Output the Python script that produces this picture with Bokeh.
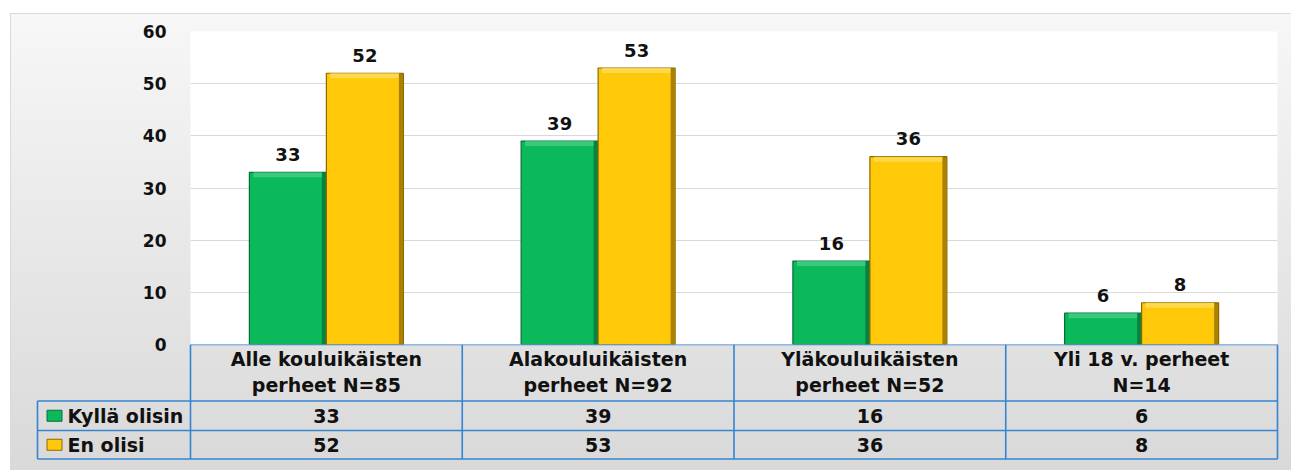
from bokeh.plotting import figure
from bokeh.models import FactorRange, Range1d, ColumnDataSource, FixedTicker, Column
from bokeh.transform import dodge
from bokeh.core.properties import value
from bokeh.embed import file_html
from bokeh.resources import INLINE

# ---- data ----
categories = ["Alle kouluikäisten\nperheet N=85", "Alakouluikäisten\nperheet N=92",
              "Yläkouluikäisten\nperheet N=52", "Yli 18 v. perheet\nN=14"]
series_names = ["Kyllä olisin", "En olisi"]
kylla = [33, 39, 16, 6]
en = [52, 53, 36, 8]
y_ticks = [0, 10, 20, 30, 40, 50, 60]

# ---- style ----
colors = ["#0BB85A", "#FFC90A"]
light_colors = ["#45CF83", "#FFDD5C"]
edge_colors = ["#05703A", "#8C6A00"]
grid_color = "#D9D9D9"
table_color = "#3584D2"
FONT = "DejaVu Sans"
W = 1291
PAD = 10
TOP_H = 344 + PAD
BOT_H = 126
FRAME_L = 190
FRAME_T = 31
FRAME_R = 14
NCAT = len(categories)
PX = (W - FRAME_L - FRAME_R) / NCAT
PY = (344 - FRAME_T) / (y_ticks[-1] - y_ticks[0])
BW = 77 / PX

# ---- chart ----
data = dict(cat=categories, kylla=kylla, en=en,
            kylla_t=[str(v) for v in kylla], en_t=[str(v) for v in en],
            kylla_b=[v - 5 / PY for v in kylla], en_b=[v - 5 / PY for v in en])
src = ColumnDataSource(data)

p = figure(x_range=FactorRange(factors=categories, range_padding=0),
           y_range=Range1d(y_ticks[0], y_ticks[-1]),
           width=W, height=TOP_H, output_backend="svg", toolbar_location=None,
           min_border_left=FRAME_L, min_border_right=FRAME_R, min_border_top=FRAME_T,
           min_border_bottom=PAD, x_axis_location=None)
p.frame_align = False
p.border_fill_alpha = 0
p.background_fill_color = "white"
p.outline_line_color = None
p.xgrid.visible = False
p.ygrid.grid_line_color = grid_color
p.ygrid.grid_line_width = 1
p.yaxis.ticker = FixedTicker(ticks=y_ticks)
p.yaxis.axis_line_color = None
p.yaxis.major_tick_line_color = None
p.yaxis.minor_tick_line_color = None
p.yaxis.major_tick_out = 0
p.yaxis.major_tick_in = 0
p.yaxis.major_label_standoff = 24
p.yaxis.major_label_text_font = FONT
p.yaxis.major_label_text_font_style = "bold"
p.yaxis.major_label_text_font_size = "17px"
p.yaxis.major_label_text_color = "#111111"

for i, (col, off) in enumerate([("kylla", -BW / 2), ("en", BW / 2)]):
    p.vbar(x=dodge("cat", off, range=p.x_range), top=col, width=BW, source=src,
           fill_color=colors[i], line_color=edge_colors[i], line_width=1.2)
    # bevel: light top strip and dark right edge
    p.vbar(x=dodge("cat", off, range=p.x_range), top=col, bottom=col + "_b",
           width=BW - 8 / PX, source=src, fill_color=light_colors[i], line_color=None,
           fill_alpha=0.8)
    p.vbar(x=dodge("cat", off + BW / 2 - 2.5 / PX, range=p.x_range), top=col, width=4 / PX,
           source=src, fill_color=edge_colors[i], line_color=None, fill_alpha=0.75)
    p.text(x=dodge("cat", off, range=p.x_range), y=col, text=col + "_t", source=src,
           text_align="center", text_baseline="alphabetic", y_offset=-18,
           text_font=value(FONT), text_font_style="bold", text_font_size="18px",
           text_color="#111111")

# ---- data table ----
t = figure(x_range=Range1d(-FRAME_L / PX, NCAT + FRAME_R / PX), y_range=Range1d(BOT_H, 0),
           width=W, height=BOT_H, min_border=0, min_border_left=0, min_border_right=0,
           min_border_top=0, min_border_bottom=0,
           x_axis_location=None, y_axis_location=None,
           output_backend="svg", toolbar_location=None,
           styles={"margin-top": f"-{PAD}px"})
t.frame_align = False
t.border_fill_alpha = 0
t.background_fill_alpha = 0
t.outline_line_color = None
t.xgrid.visible = False
t.ygrid.visible = False

LEFT = (37 - 190) / PX
ROW1, ROW2, BOTTOM = 56.5, 86.0, 114.5
hx0 = [0, LEFT, LEFT, LEFT]
hx1 = [NCAT] * 4
hy = [0, ROW1, ROW2, BOTTOM]
vx = list(range(NCAT + 1)) + [LEFT]
vy0 = [0] * (NCAT + 1) + [ROW1]
vy1 = [BOTTOM] * (NCAT + 2)
t.segment(x0=hx0, y0=hy, x1=hx1, y1=hy, line_color=table_color, line_width=1.6)
t.segment(x0=vx, y0=vy0, x1=vx, y1=vy1, line_color=table_color, line_width=1.6)

centers = [i + 0.5 for i in range(NCAT)]
txt = dict(text_font=value(FONT), text_font_style="bold", text_font_size="19px",
           text_color="#111111", text_baseline="middle")
t.text(x=centers, y=[27.8] * NCAT, text=categories, text_align="center",
       text_line_height=1.2, **txt)
t.text(x=centers, y=[(ROW1 + ROW2) / 2 + 0.5] * NCAT, text=[str(v) for v in kylla],
       text_align="center", **txt)
t.text(x=centers, y=[(ROW2 + BOTTOM) / 2 + 0.5] * NCAT, text=[str(v) for v in en],
       text_align="center", **txt)

leg_y = [(ROW1 + ROW2) / 2, (ROW2 + BOTTOM) / 2]
t.rect(x=[(54 - 190) / PX] * 2, y=leg_y, width=15, height=11, width_units="screen",
       height_units="screen", fill_color=colors, line_color=edge_colors, line_width=1)
t.text(x=[(67 - 190) / PX] * 2, y=[v + 0.5 for v in leg_y], text=series_names,
       text_align="left", **txt)

bg = ("linear-gradient(#DADADA,#DADADA) 10px 13px / 100% 1px no-repeat, "
      "linear-gradient(#DADADA,#DADADA) 10px 13px / 1px 100% no-repeat, "
      "linear-gradient(180deg, #F7F7F7 0%, #D8D8D8 100%) 10px 13px / 100% 100% no-repeat, "
      "#FFFFFF")
layout = Column(children=[p, t], spacing=0, styles={"background": bg})

open("out.html", "w").write(file_html(layout, INLINE))
